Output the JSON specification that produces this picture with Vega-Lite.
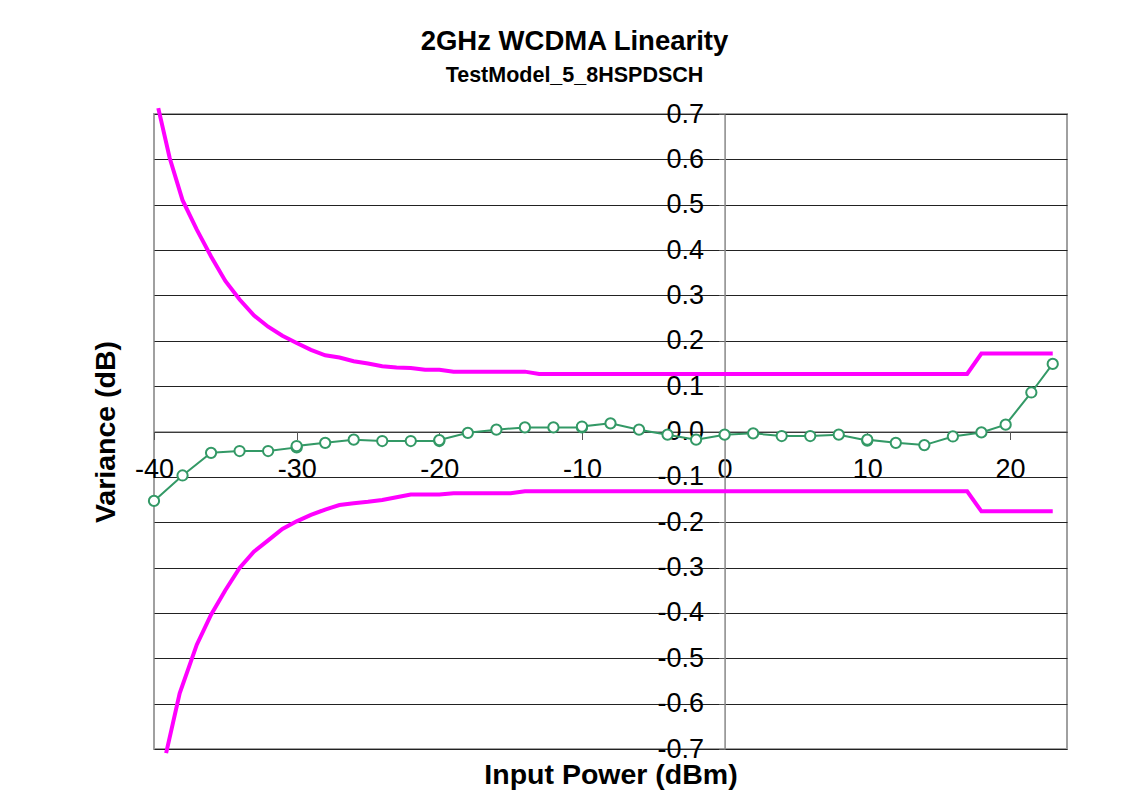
{
  "$schema": "https://vega.github.io/schema/vega-lite/v6.json",
  "width": 913,
  "height": 635,
  "autosize": {"type": "none"},
  "padding": {"left": 154, "top": 114, "right": 62, "bottom": 47},
  "background": "white",
  "title": {
    "text": "2GHz WCDMA Linearity",
    "subtitle": "TestModel_5_8HSPDSCH",
    "anchor": "middle",
    "frame": "group",
    "dx": -36,
    "font": "Liberation Sans",
    "fontSize": 27.5,
    "fontWeight": "bold",
    "color": "black",
    "subtitleFont": "Liberation Sans",
    "subtitleFontSize": 21.5,
    "subtitleFontWeight": "bold",
    "subtitleColor": "black",
    "subtitlePadding": 9,
    "offset": 14
  },
  "config": {
    "font": "Liberation Sans",
    "view": {"stroke": "#a0a0a0", "strokeWidth": 2}
  },
  "datasets": {
    "limits": [
      {"series": "Upper", "x": -39.7, "y": 0.713},
      {"series": "Upper", "x": -38.9, "y": 0.603},
      {"series": "Upper", "x": -38, "y": 0.51},
      {"series": "Upper", "x": -37, "y": 0.445},
      {"series": "Upper", "x": -36, "y": 0.386},
      {"series": "Upper", "x": -35, "y": 0.332},
      {"series": "Upper", "x": -34, "y": 0.291},
      {"series": "Upper", "x": -33, "y": 0.256},
      {"series": "Upper", "x": -32, "y": 0.231},
      {"series": "Upper", "x": -31, "y": 0.211},
      {"series": "Upper", "x": -30, "y": 0.195},
      {"series": "Upper", "x": -29, "y": 0.18},
      {"series": "Upper", "x": -28, "y": 0.168},
      {"series": "Upper", "x": -27, "y": 0.163},
      {"series": "Upper", "x": -26, "y": 0.155},
      {"series": "Upper", "x": -25, "y": 0.15},
      {"series": "Upper", "x": -24, "y": 0.144},
      {"series": "Upper", "x": -23, "y": 0.141},
      {"series": "Upper", "x": -22, "y": 0.14},
      {"series": "Upper", "x": -21, "y": 0.136},
      {"series": "Upper", "x": -20, "y": 0.136},
      {"series": "Upper", "x": -19, "y": 0.132},
      {"series": "Upper", "x": -14, "y": 0.132},
      {"series": "Upper", "x": -13, "y": 0.127},
      {"series": "Upper", "x": 17, "y": 0.127},
      {"series": "Upper", "x": 18, "y": 0.172},
      {"series": "Upper", "x": 23, "y": 0.172},
      {"series": "Lower", "x": -39.15, "y": -0.709},
      {"series": "Lower", "x": -38.2, "y": -0.577},
      {"series": "Lower", "x": -37, "y": -0.47},
      {"series": "Lower", "x": -36, "y": -0.404},
      {"series": "Lower", "x": -35, "y": -0.35},
      {"series": "Lower", "x": -34, "y": -0.301},
      {"series": "Lower", "x": -33, "y": -0.265},
      {"series": "Lower", "x": -32, "y": -0.24},
      {"series": "Lower", "x": -31, "y": -0.215},
      {"series": "Lower", "x": -30, "y": -0.198},
      {"series": "Lower", "x": -29, "y": -0.184},
      {"series": "Lower", "x": -28, "y": -0.172},
      {"series": "Lower", "x": -27, "y": -0.162},
      {"series": "Lower", "x": -26, "y": -0.158},
      {"series": "Lower", "x": -25, "y": -0.155},
      {"series": "Lower", "x": -24, "y": -0.151},
      {"series": "Lower", "x": -23, "y": -0.145},
      {"series": "Lower", "x": -22, "y": -0.139},
      {"series": "Lower", "x": -20, "y": -0.139},
      {"series": "Lower", "x": -19, "y": -0.136},
      {"series": "Lower", "x": -15, "y": -0.136},
      {"series": "Lower", "x": -14, "y": -0.132},
      {"series": "Lower", "x": 17, "y": -0.132},
      {"series": "Lower", "x": 18, "y": -0.176},
      {"series": "Lower", "x": 23, "y": -0.176}
    ],
    "measured": [
      {"x": -40, "y": -0.153},
      {"x": -38, "y": -0.097},
      {"x": -36, "y": -0.047},
      {"x": -34, "y": -0.043},
      {"x": -32, "y": -0.043},
      {"x": -30, "y": -0.035},
      {"x": -30, "y": -0.032},
      {"x": -28, "y": -0.025},
      {"x": -26, "y": -0.018},
      {"x": -24, "y": -0.021},
      {"x": -22, "y": -0.021},
      {"x": -20, "y": -0.021},
      {"x": -20, "y": -0.019},
      {"x": -18, "y": -0.003},
      {"x": -16, "y": 0.004},
      {"x": -14, "y": 0.009},
      {"x": -12, "y": 0.009},
      {"x": -10, "y": 0.009},
      {"x": -10, "y": 0.011},
      {"x": -8, "y": 0.018},
      {"x": -6, "y": 0.004},
      {"x": -4, "y": -0.007},
      {"x": -2, "y": -0.018},
      {"x": 0, "y": -0.007},
      {"x": 2, "y": -0.004},
      {"x": 4, "y": -0.01},
      {"x": 6, "y": -0.01},
      {"x": 8, "y": -0.007},
      {"x": 10, "y": -0.02},
      {"x": 10, "y": -0.018},
      {"x": 12, "y": -0.025},
      {"x": 14, "y": -0.03},
      {"x": 16, "y": -0.011},
      {"x": 18, "y": -0.002},
      {"x": 19.7, "y": 0.015},
      {"x": 21.5, "y": 0.086},
      {"x": 23, "y": 0.149}
    ]
  },
  "layer": [
    {
      "data": {"name": "limits"},
      "mark": {"type": "line", "color": "#ff00ff", "strokeWidth": 4, "clip": false},
      "encoding": {
        "x": {
          "field": "x",
          "type": "quantitative",
          "scale": {"domain": [-40, 24], "nice": false, "zero": false},
          "axis": {
            "title": "Input Power (dBm)",
            "orient": "bottom",
            "offset": -317.5,
            "values": [-40, -30, -20, -10, 0, 10, 20],
            "labelExpr": "'' + datum.value",
            "grid": false,
            "tickSize": 8,
            "tickColor": "#555555",
            "domainColor": "#555555",
            "labelFont": "Liberation Sans",
            "labelFontSize": 27,
            "labelColor": "black",
            "labelPadding": 17,
            "labelFlush": false,
            "labelOverlap": false,
            "titleFont": "Liberation Sans",
            "titleFontSize": 28.5,
            "titleFontWeight": "bold",
            "titleColor": "black",
            "titleBaseline": "alphabetic",
            "titleY": 352
          }
        },
        "y": {
          "field": "y",
          "type": "quantitative",
          "scale": {"domain": [-0.7, 0.7], "nice": false, "zero": false},
          "axis": {
            "title": "Variance (dB)",
            "orient": "left",
            "offset": -570.6,
            "values": [-0.7, -0.6, -0.5, -0.4, -0.3, -0.2, -0.1, 0, 0.1, 0.2, 0.3, 0.4, 0.5, 0.6, 0.7],
            "labelExpr": "replace(format(datum.value, '.1f'), '\u2212', '-')",
            "grid": true,
            "gridColor": "#222222",
            "gridWidth": 1,
            "tickSize": 6,
            "tickColor": "#555555",
            "domainColor": "#888888",
            "domainWidth": 1.5,
            "labelFont": "Liberation Sans",
            "labelFontSize": 27,
            "labelColor": "black",
            "labelPadding": 15,
            "labelFlush": false,
            "labelOverlap": false,
            "titleFont": "Liberation Sans",
            "titleFontSize": 28.5,
            "titleFontWeight": "bold",
            "titleColor": "black",
            "titleBaseline": "alphabetic",
            "titleX": -610
          }
        },
        "detail": {"field": "series", "type": "nominal"}
      }
    },
    {
      "data": {"name": "measured"},
      "mark": {
        "type": "line",
        "color": "#339966",
        "strokeWidth": 2,
        "point": {"filled": true, "fill": "white", "stroke": "#339966", "strokeWidth": 2, "size": 105}
      },
      "encoding": {
        "x": {"field": "x", "type": "quantitative"},
        "y": {"field": "y", "type": "quantitative"}
      }
    }
  ]
}
